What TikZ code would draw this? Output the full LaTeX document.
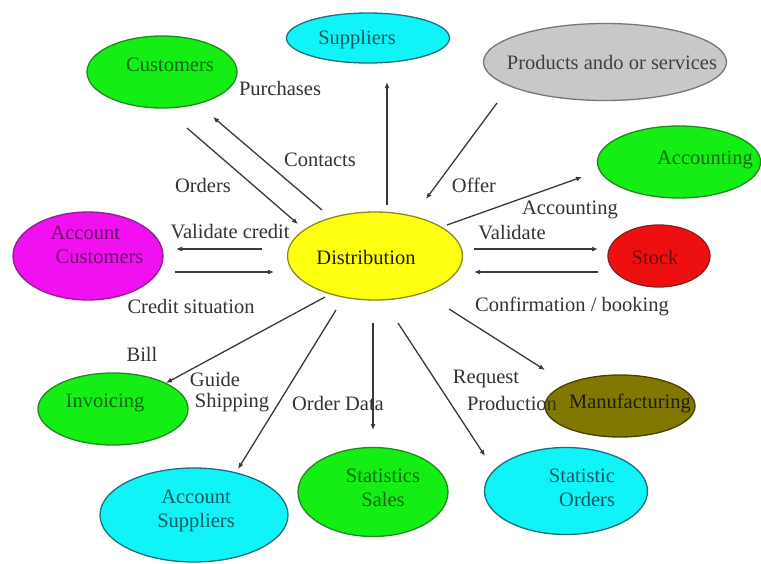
\documentclass[tikz,border=0pt]{standalone}
\usepackage{fontspec}
\setmainfont{Liberation Serif}
\usetikzlibrary{shapes.geometric,arrows.meta,calc}

\definecolor{lineGray}{HTML}{3A3A3A}
\definecolor{labelGray}{HTML}{333333}
% fills
\definecolor{fGreen}{HTML}{14EE14}
\definecolor{fCyan}{HTML}{10F4F8}
\definecolor{fGray}{HTML}{C8C8C8}
\definecolor{fMagenta}{HTML}{F010F0}
\definecolor{fYellow}{HTML}{FFFF10}
\definecolor{fRed}{HTML}{EE1010}
\definecolor{fOlive}{HTML}{807800}
% outlines
\definecolor{oGreen}{HTML}{228822}
\definecolor{oCyan}{HTML}{1A7080}
\definecolor{oGray}{HTML}{777777}
\definecolor{oMagenta}{HTML}{882288}
\definecolor{oYellow}{HTML}{8A8A20}
\definecolor{oRed}{HTML}{882020}
\definecolor{oOlive}{HTML}{4A4000}
% texts
\definecolor{tGreen}{HTML}{0A6A0A}
\definecolor{tCyan}{HTML}{0A5A60}
\definecolor{tGray}{HTML}{404040}
\definecolor{tMagenta}{HTML}{6A106A}
\definecolor{tRed}{HTML}{700A0A}
\definecolor{tDark}{HTML}{1E1E10}

\tikzset{
  blob/.style={ellipse, draw, line width=1.3pt, inner sep=0pt},
  flow/.style={draw=lineGray, line width=1.3pt, -{Latex[length=6pt,width=5pt]}},
  flowlabel/.style={text=labelGray, inner sep=0pt, font=\fontsize{20.5}{23}\selectfont},
  blobtext/.style={inner sep=0pt, align=center, font=\fontsize{20.5}{24}\selectfont},
}

\begin{document}
\begin{tikzpicture}[x=1pt, y=-1pt]
\useasboundingbox (0,0) rectangle (761,563);
\fill[white] (0,0) rectangle (761,563);

% ---- ellipses ----
\node[blob, fill=fGreen, draw=oGreen, minimum width=150pt, minimum height=72pt] (cust) at (162,72) {};
\node[blob, fill=fCyan, draw=oCyan, minimum width=163pt, minimum height=50pt] (supp) at (368,38) {};
\node[blob, fill=fGray, draw=oGray, minimum width=243pt, minimum height=77pt] (prod) at (605,62) {};
\node[blob, fill=fGreen, draw=oGreen, minimum width=163pt, minimum height=72pt] (acct) at (679,162) {};
\node[blob, fill=fMagenta, draw=oMagenta, minimum width=150pt, minimum height=88pt] (accc) at (88,256) {};
\node[blob, fill=fYellow, draw=oYellow, minimum width=175pt, minimum height=88pt] (dist) at (375,256) {};
\node[blob, fill=fRed, draw=oRed, minimum width=102pt, minimum height=62pt] (stock) at (659,256) {};
\node[blob, fill=fGreen, draw=oGreen, minimum width=150pt, minimum height=72pt] (inv) at (113,409) {};
\node[blob, fill=fCyan, draw=oCyan, minimum width=188pt, minimum height=94pt] (accs) at (194,515) {};
\node[blob, fill=fGreen, draw=oGreen, minimum width=150pt, minimum height=89pt] (stsa) at (373,492) {};
\node[blob, fill=fCyan, draw=oCyan, minimum width=163pt, minimum height=87pt] (stor) at (566,491) {};
\node[blob, fill=fOlive, draw=oOlive, minimum width=150pt, minimum height=62pt] (manu) at (620,406) {};

% ---- texts inside the ellipses ----
\node[blobtext, text=tGreen] (custT) at (170,65) {Customers};
\node[blobtext, text=tCyan] (suppT) at (357,40) {Suppliers};
\node[blobtext, text=tGray] (prodT) at (612,62) {Products ando or services};
\node[blobtext, text=tGreen] (acctT) at (705,160) {Accounting};
\node[blobtext, text=tMagenta, align=left] (acccT) at (97,245) {Account\\\ Customers};
\node[blobtext, text=tDark] (distT) at (366,257) {Distribution};
\node[blobtext, text=tRed] (stockT) at (655,257) {Stock};
\node[blobtext, text=tGreen] (invT) at (105,403) {Invoicing};
\node[blobtext, text=tCyan] (accsT) at (196,511) {Account\\Suppliers};
\node[blobtext, text=tGreen] (stsaT) at (383,488) {Statistics\\Sales};
\node[blobtext, text=tCyan] (storT) at (582,488) {Statistic\\\ \ Orders};
\node[blobtext, text=tDark] (manuT) at (630,403) {Manufacturing};

% ---- connectors ----
\draw[flow] ($(dist)+(-53,-46)$) -- ($(cust)+(51,45)$);   % Contacts
\draw[flow] ($(cust)+(25,56)$) -- ($(dist)+(-77,-32)$);   % Orders
\draw[flow] ($(dist)+(12,-51)$) -- ($(supp)+(19,44)$);    % to Suppliers
\draw[flow] ($(prod)+(-108,41)$) -- ($(dist)+(51,-57)$);  % Offer
\draw[flow] ($(dist)+(72,-31)$) -- ($(acct)+(-97,15)$);   % Accounting
\draw[flow] ($(dist)+(99,-7)$) -- ($(stock)+(-61,-7)$);   % Validate
\draw[flow] ($(stock)+(-61,16)$) -- ($(dist)+(99,16)$);   % Confirmation / booking
\draw[flow] ($(dist)+(-113,-7)$) -- ($(accc)+(88,-7)$);   % Validate credit
\draw[flow] ($(accc)+(87,16)$) -- ($(dist)+(-101,16)$);   % Credit situation
\draw[flow] ($(dist)+(-50,41)$) -- ($(inv)+(53,-26)$);    % Bill
\draw[flow] ($(dist)+(-39,54)$) -- ($(accs)+(44,-46)$);   % Guide / Shipping
\draw[flow] ($(dist)+(-2,67)$) -- ($(stsa)+(0,-62)$);     % Order Data
\draw[flow] ($(dist)+(23,67)$) -- ($(stor)+(-81,-35)$);   % Request / Production
\draw[flow] ($(dist)+(74,53)$) -- ($(manu)+(-75,-36)$);   % to Manufacturing

% ---- connector labels ----
\node[flowlabel] (lPurch) at (280,88) {Purchases};
\node[flowlabel] (lCont) at (320,160) {Contacts};
\node[flowlabel] (lOrd) at (203,185) {Orders};
\node[flowlabel] (lOffer) at (474,185) {Offer};
\node[flowlabel] (lAcct) at (570,210) {Accounting};
\node[flowlabel] (lVal) at (512,233) {Validate};
\node[flowlabel] (lValC) at (230,232) {Validate credit};
\node[flowlabel] (lCred) at (191,306) {Credit situation};
\node[flowlabel] (lConf) at (572,306) {Confirmation / booking};
\node[flowlabel] (lBill) at (142,354) {Bill};
\node[flowlabel] (lGuide) at (215,379) {Guide};
\node[flowlabel] (lShip) at (232,403) {Shipping};
\node[flowlabel] (lOData) at (338,403) {Order Data};
\node[flowlabel] (lReq) at (486,379) {Request};
\node[flowlabel] (lProd) at (512,403) {Production};
\end{tikzpicture}
\end{document}
